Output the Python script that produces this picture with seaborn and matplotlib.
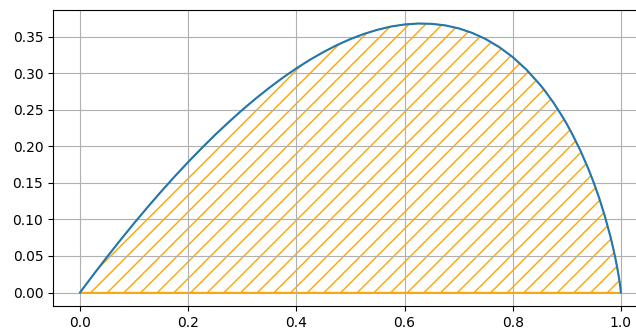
import numpy as np
import matplotlib
matplotlib.use('Agg')
import matplotlib.pyplot as plt
import seaborn as sns

# curve values
x_vals = [0.0, 0.0125, 0.025, 0.05, 0.075, 0.10, 0.125, 0.15, 0.175, 0.20,
          0.225, 0.25, 0.275, 0.30, 0.325, 0.35, 0.375, 0.40, 0.425, 0.45,
          0.475, 0.50, 0.525, 0.55, 0.575, 0.60, 0.625, 0.65, 0.675, 0.70,
          0.725, 0.75, 0.775, 0.80, 0.825, 0.85, 0.86, 0.875, 0.89, 0.90,
          0.91, 0.925, 0.94, 0.95, 0.96, 0.97, 0.98, 0.985, 0.99, 0.9925,
          0.995, 0.9975, 0.999, 1.0]
y_vals = [0.0, 0.0124, 0.0247, 0.0487, 0.0721, 0.0948, 0.1168, 0.1381, 0.1587,
          0.1785, 0.1975, 0.2158, 0.2331, 0.2497, 0.2653, 0.2800, 0.2938,
          0.3065, 0.3182, 0.3288, 0.3383, 0.3466, 0.3536, 0.3593, 0.3637,
          0.3665, 0.3678, 0.3674, 0.3653, 0.3612, 0.3550, 0.3466, 0.3356,
          0.3219, 0.3050, 0.2846, 0.2753, 0.2599, 0.2428, 0.2303, 0.2167,
          0.1943, 0.1688, 0.1498, 0.1288, 0.1052, 0.0782, 0.0630, 0.0461,
          0.0367, 0.0265, 0.0150, 0.0069, 0.0]

x_ticks = [0.0, 0.2, 0.4, 0.6, 0.8, 1.0]
y_ticks = [0.00, 0.05, 0.10, 0.15, 0.20, 0.25, 0.30, 0.35]

fig = plt.figure(figsize=(6.36, 3.29), dpi=100)
ax = fig.add_axes([0.0833, 0.0699, 0.9355, 0.8997])

# hatched area under the curve
ax.fill_between(x_vals, y_vals, facecolor='none', edgecolor='orange', hatch='//')
sns.lineplot(x=x_vals, y=y_vals, ax=ax, color='#1f77b4', linewidth=1.5)

ax.set_xticks(x_ticks)
ax.set_yticks(y_ticks)
ax.set_xlim(-0.05, 1.05)
ax.set_ylim(-0.0184, 0.3863)
ax.grid(True)

fig.savefig('out.png', dpi=100)
